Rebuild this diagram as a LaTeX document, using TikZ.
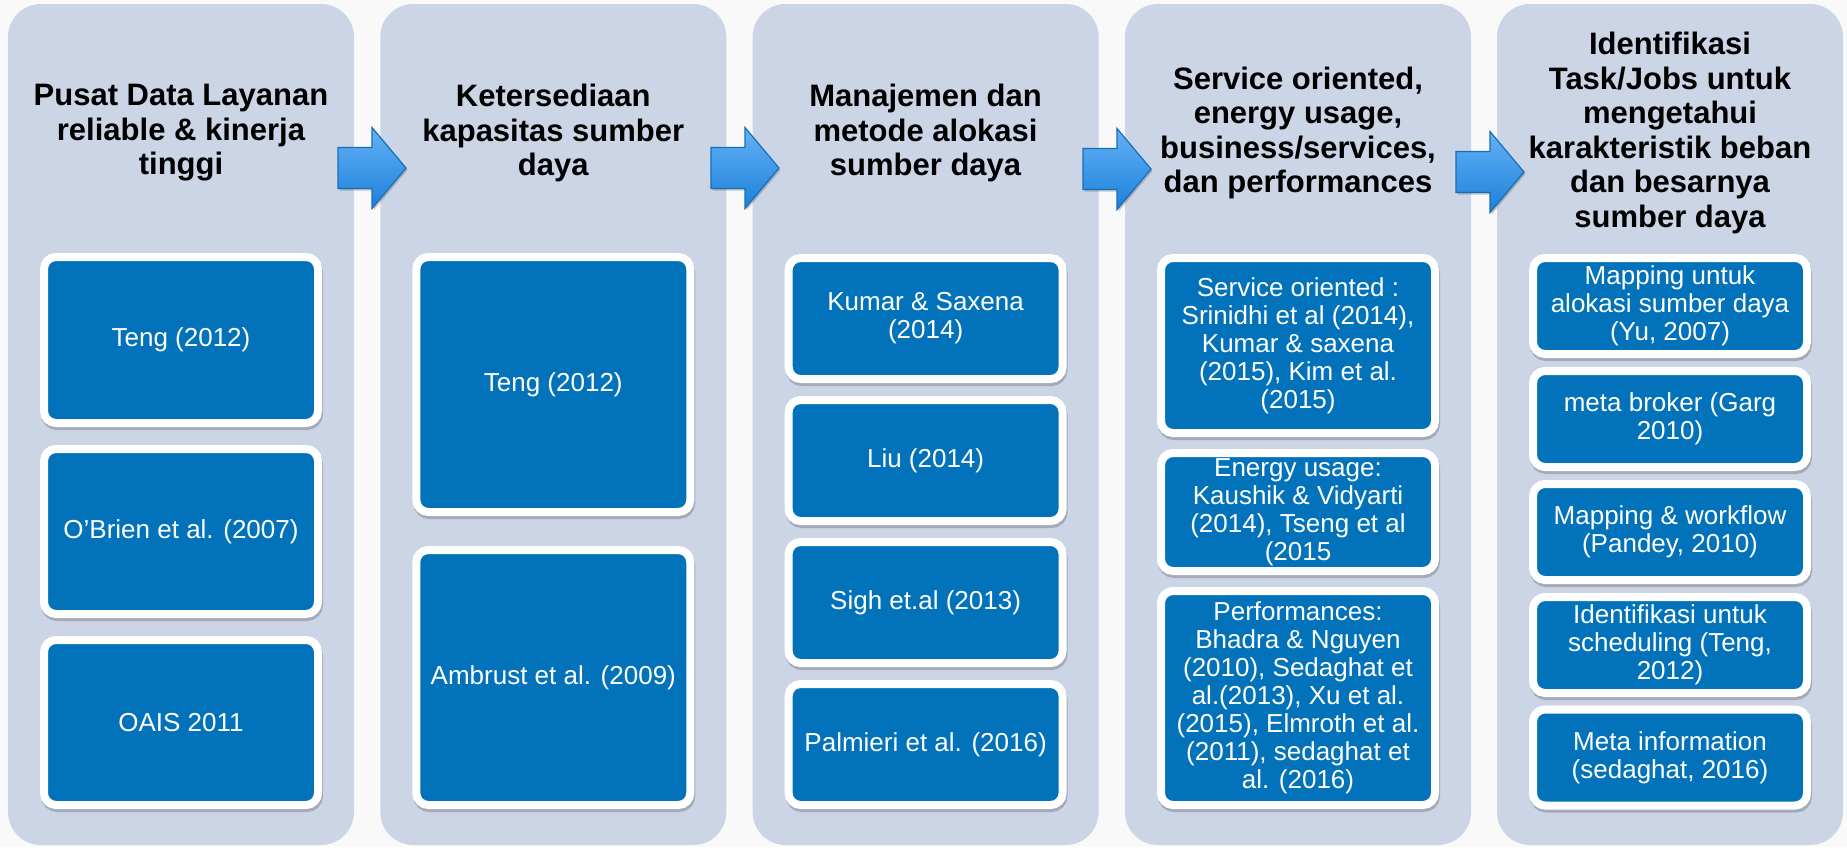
\documentclass[tikz,border=0pt]{standalone}
\usepackage{fontspec}
\setmainfont{Liberation Sans}
\usetikzlibrary{shadows}
\definecolor{pagebg}{RGB}{249,249,249}
\definecolor{colfill}{RGB}{203,213,230}
\definecolor{boxblue}{RGB}{2,115,186}
\definecolor{arrtop}{RGB}{100,178,245}
\definecolor{arrbot}{RGB}{28,128,218}
\definecolor{arredge}{RGB}{22,110,185}
\begin{document}
\begin{tikzpicture}[x=1pt,y=-1pt,
  colbox/.style={fill=colfill, draw=none, rounded corners=33pt, minimum width=346pt, minimum height=841pt, inner sep=0pt},
  titletext/.style={font=\bfseries\fontsize{31}{34.5}\selectfont, align=center, text=black, inner sep=0pt},
  refbox/.style={fill=boxblue, draw=white, line width=8pt, rounded corners=12pt, minimum width=274pt,
    text=white, align=center, inner sep=0pt, font=\fontsize{26}{28}\selectfont,
    drop shadow={shadow xshift=1pt, shadow yshift=-3pt, opacity=0.3, fill=black!70, draw=black!70}},
  flowarrow/.style={top color=arrtop, bottom color=arrbot, draw=arredge, line width=1.2pt, line join=miter,
    drop shadow={shadow xshift=1.5pt, shadow yshift=-2pt, opacity=0.3, fill=black!70}}
]
\useasboundingbox (0,0) rectangle (1847,847);
\fill[pagebg] (0,0) rectangle (1847,847);

% columns
\node[colbox] (c1) at (181,424.5) {};
\node[colbox] (c2) at (553.3,424.5) {};
\node[colbox] (c3) at (925.6,424.5) {};
\node[colbox] (c4) at (1298,424.5) {};
\node[colbox] (c5) at (1670,424.5) {};

% titles
\node[titletext] (t1) at (181,133) {Pusat Data Layanan\\reliable \& kinerja\\tinggi};
\node[titletext] (t2) at (553.3,133) {Ketersediaan\\kapasitas sumber\\daya};
\node[titletext] (t3) at (925.6,133) {Manajemen dan\\metode alokasi\\sumber daya};
\node[titletext] (t4) at (1298,133) {Service oriented,\\energy usage,\\business/services,\\dan performances};
\node[titletext] (t5) at (1670,133) {Identifikasi\\Task/Jobs untuk\\mengetahui\\karakteristik beban\\dan besarnya\\sumber daya};

% column 1
\node[refbox, minimum height=166pt] (b11) at (181,340) {Teng (2012)};
\node[refbox, minimum height=165pt] (b12) at (181,531.5) {O’Brien et al. (2007)};
\node[refbox, minimum height=165pt] (b13) at (181,722.5) {OAIS 2011};

% column 2
\node[refbox, minimum height=255pt] (b21) at (553.3,384.5) {Teng (2012)};
\node[refbox, minimum height=255pt] (b22) at (553.3,677.5) {Ambrust et al. (2009)};

% column 3
\node[refbox, minimum height=121pt] (b31) at (925.6,318.5) {Kumar \& Saxena\\(2014)};
\node[refbox, minimum height=121pt] (b32) at (925.6,460.5) {Liu (2014)};
\node[refbox, minimum height=121pt] (b33) at (925.6,602.5) {Sigh et.al (2013)};
\node[refbox, minimum height=121pt] (b34) at (925.6,744.5) {Palmieri et al. (2016)};

% column 4
\node[refbox, minimum height=175pt] (b41) at (1298,345.5) {Service oriented :\\Srinidhi et al (2014),\\Kumar \& saxena\\(2015), Kim et al.\\(2015)};
\node[refbox, minimum height=118pt] (b42) at (1298,512) {Energy usage:\\Kaushik \& Vidyarti\\(2014), Tseng et al\\(2015};
\node[refbox, minimum height=214pt] (b43) at (1298,698) {Performances:\\Bhadra \& Nguyen\\(2010), Sedaghat et\\al.(2013), Xu et al.\\(2015), Elmroth et al.\\(2011), sedaghat et\\al. (2016)};

% column 5
\node[refbox, minimum height=96pt] (b51) at (1670,306) {Mapping untuk\\alokasi sumber daya\\(Yu, 2007)};
\node[refbox, minimum height=96pt] (b52) at (1670,419) {meta broker (Garg\\2010)};
\node[refbox, minimum height=96pt] (b53) at (1670,532) {Mapping \& workflow\\(Pandey, 2010)};
\node[refbox, minimum height=96pt] (b54) at (1670,645) {Identifikasi untuk\\scheduling (Teng,\\2012)};
\node[refbox, minimum height=96pt] (b55) at (1670,757.5) {Meta information\\(sedaghat, 2016)};

% block arrows between columns
\foreach \ax/\ay in {338/168, 711/168, 1083/169, 1456/172}{
  \path[flowarrow] ({\ax},{\ay-20.5}) -- ++(34,0) -- ++(0,-20) -- ++(34,40.5)
    -- ++(-34,40.5) -- ++(0,-20) -- ++(-34,0) -- cycle;
}
\end{tikzpicture}
\end{document}
